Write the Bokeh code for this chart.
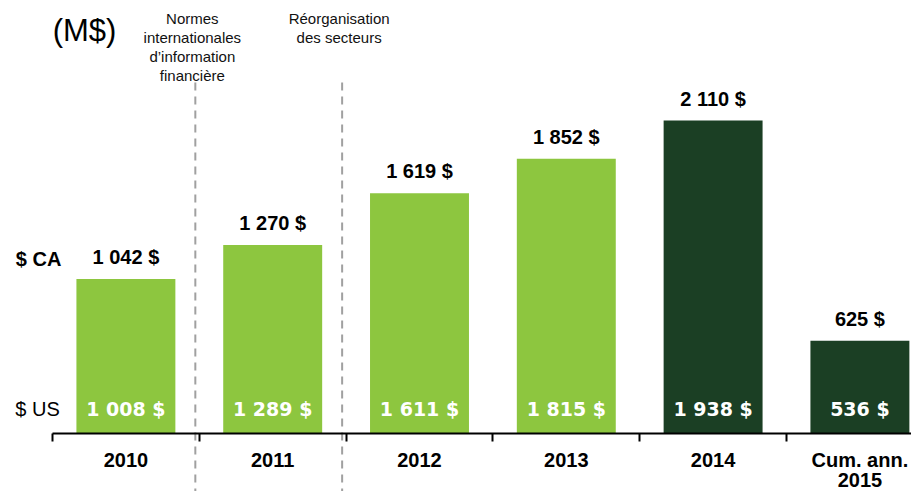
from bokeh.plotting import figure
from bokeh.models import Range1d, LinearAxis, FixedTicker, ColumnDataSource
from bokeh.core.properties import value
from bokeh.embed import file_html
from bokeh.resources import INLINE

# ---- data ----
categories = ["2010", "2011", "2012", "2013", "2014", "Cum. ann.\n2015"]
cad_values = [1042, 1270, 1619, 1852, 2110, 625]
usd_values = [1008, 1289, 1611, 1815, 1938, 536]
bar_colors = ["#8DC63F", "#8DC63F", "#8DC63F", "#8DC63F", "#1B3F24", "#1B3F24"]
separators = [0.973, 1.973]
separator_notes = ["Normes\ninternationales\nd\u2019information\nfinanci\u00e8re",
                   "R\u00e9organisation\ndes secteurs"]


def fmt(v):
    return f"{v:,}".replace(",", " ") + " $"


centers = [i + 0.5 for i in range(len(categories))]

src = ColumnDataSource(dict(
    x=centers,
    cad=cad_values,
    usd=usd_values,
    color=bar_colors,
    cad_lab=[fmt(v) for v in cad_values],
    usd_lab=[fmt(v) for v in usd_values],
    zero=[0] * len(categories),
))

FONT = "Liberation Sans"
Y_BOTTOM = -391

p = figure(width=911, height=491,
           x_range=Range1d(-0.3542, 5.8515), y_range=Range1d(Y_BOTTOM, 2919),
           x_axis_type=None, y_axis_type=None,
           output_backend="svg", toolbar_location=None, min_border=0)
p.outline_line_color = None
p.background_fill_color = "white"
p.border_fill_color = "white"

# bars
p.vbar(x="x", top="cad", width=0.674, fill_color="color", line_color=None, source=src)

# separators
p.segment(x0=separators, y0=[2366, 2366], x1=separators, y1=[Y_BOTTOM, Y_BOTTOM],
          line_color="#A0A0A0", line_width=2, line_dash="8 6")
p.text(x=separators, y=[2852, 2852], text=separator_notes, x_offset=-3,
       text_align="center", text_baseline="top", text_line_height=1.11,
       text_font=value(FONT), text_font_size="15px", text_color="#111111")

# CAD labels
p.text(x="x", y="cad", text="cad_lab", source=src, y_offset=-22,
       text_align="center", text_baseline="middle",
       text_font=value(FONT), text_font_style="bold", text_font_size="20px",
       text_color="black")

# USD labels inside bars
p.text(x="x", y="zero", text="usd_lab", source=src, y_offset=-24,
       text_align="center", text_baseline="middle",
       text_font=value("DejaVu Sans"), text_font_style="bold", text_font_size="19px",
       text_color="white")

# side labels
p.text(x=[-0.095], y=[1173], text=["$ CA"], text_align="center", text_baseline="middle",
       text_font=value(FONT), text_font_style="bold", text_font_size="20px", text_color="black")
p.text(x=[-0.102], y=[0], text=["$ US"], y_offset=-24, text_align="center",
       text_baseline="middle", text_font=value(FONT), text_font_size="20px",
       text_color="black")
p.text(x=[0.218], y=[2717], text=["(M$)"], text_align="center", text_baseline="middle",
       text_font=value(FONT), text_font_size="31px", text_color="black")

# category axis
ax = LinearAxis(fixed_location=0,
                ticker=FixedTicker(ticks=centers, minor_ticks=list(range(len(categories) + 1))),
                bounds=(0, len(categories)))
ax.major_label_overrides = {c: lab for c, lab in zip(centers, categories)}
ax.major_tick_out = 0
ax.major_tick_in = 0
ax.minor_tick_out = 8
ax.minor_tick_in = 0
ax.minor_tick_line_width = 2
ax.minor_tick_line_color = "black"
ax.axis_line_width = 2
ax.axis_line_color = "black"
ax.major_label_standoff = 8
ax.major_label_text_font = FONT
ax.major_label_text_font_style = "bold"
ax.major_label_text_font_size = "20px"
ax.major_label_text_line_height = 0.9
ax.major_label_text_color = "black"
p.add_layout(ax, "below")

open("out.html", "w").write(file_html(p, INLINE))
